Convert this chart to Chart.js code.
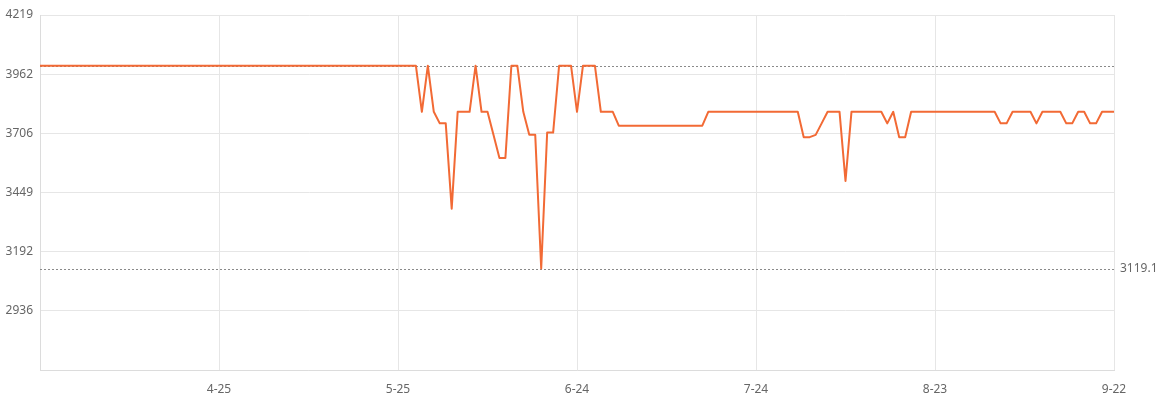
<!DOCTYPE html>
<html>
<head>
<meta charset="utf-8">
<script src="https://cdn.jsdelivr.net/npm/chart.js@4.4.1/dist/chart.umd.min.js"></script>
<style>
html, body { margin: 0; padding: 0; background: #fff; }
</style>
</head>
<body>
<canvas id="priceChart" width="1164" height="408"></canvas>
<script>
// month -> [first day, last day] covered by the chart (3-26 .. 9-22)
const monthSpans = [[3, 26, 31], [4, 1, 30], [5, 1, 31], [6, 1, 30], [7, 1, 31], [8, 1, 31], [9, 1, 22]];
const dates = [];
monthSpans.forEach(([m, from, to]) => {
    for (let d = from; d <= to; d++) dates.push(m + '-' + d);
});

// daily price, 3-26 .. 9-22
const prices = [
    3999, 3999, 3999, 3999, 3999, 3999, 3999, 3999, 3999, 3999,
    3999, 3999, 3999, 3999, 3999, 3999, 3999, 3999, 3999, 3999,
    3999, 3999, 3999, 3999, 3999, 3999, 3999, 3999, 3999, 3999,
    3999, 3999, 3999, 3999, 3999, 3999, 3999, 3999, 3999, 3999,
    3999, 3999, 3999, 3999, 3999, 3999, 3999, 3999, 3999, 3999,
    3999, 3999, 3999, 3999, 3999, 3999, 3999, 3999, 3999, 3999,
    3999, 3999, 3999, 3999, 3799, 3999, 3799, 3749, 3749, 3379,
    3799, 3799, 3799, 3999, 3799, 3799, 3699, 3599, 3599, 3999,
    3999, 3799, 3699, 3699, 3119.1, 3709, 3709, 3999, 3999, 3999,
    3799, 3999, 3999, 3999, 3799, 3799, 3799, 3739, 3739, 3739,
    3739, 3739, 3739, 3739, 3739, 3739, 3739, 3739, 3739, 3739,
    3739, 3739, 3799, 3799, 3799, 3799, 3799, 3799, 3799, 3799,
    3799, 3799, 3799, 3799, 3799, 3799, 3799, 3799, 3689, 3689,
    3699, 3749, 3799, 3799, 3799, 3499, 3799, 3799, 3799, 3799,
    3799, 3799, 3749, 3799, 3689, 3689, 3799, 3799, 3799, 3799,
    3799, 3799, 3799, 3799, 3799, 3799, 3799, 3799, 3799, 3799,
    3799, 3749, 3749, 3799, 3799, 3799, 3799, 3749, 3799, 3799,
    3799, 3799, 3749, 3749, 3799, 3799, 3749, 3749, 3799, 3799,
    3799
];

const yMin = 2679;
const yMax = 4219;
const yTicks = [2936, 3192, 3449, 3706, 3962, 4219];
const maxPrice = 3999;
const minPrice = 3119.1;

const gridColor = '#e6e6e6';
const textColor = '#666';

// dotted lines at highest / lowest price, lowest one labelled on the right
const refLines = {
    id: 'refLines',
    beforeDatasetsDraw(chart) {
        const { ctx, chartArea } = chart;
        const y = chart.scales.y;
        ctx.save();
        ctx.strokeStyle = '#8a8a8a';
        ctx.lineWidth = 1;
        ctx.setLineDash([2, 2]);
        [maxPrice, minPrice].forEach(v => {
            const py = Math.round(y.getPixelForValue(v)) + 0.5;
            ctx.beginPath();
            ctx.moveTo(chartArea.left, py);
            ctx.lineTo(chartArea.right, py);
            ctx.stroke();
        });
        ctx.setLineDash([]);
        ctx.fillStyle = textColor;
        ctx.font = '12px "Noto Sans", sans-serif';
        ctx.textBaseline = 'middle';
        ctx.textAlign = 'left';
        ctx.fillText(String(minPrice), chartArea.right + 6, y.getPixelForValue(minPrice));
        ctx.restore();
    }
};

Chart.defaults.font.family = '"Noto Sans", sans-serif';
Chart.defaults.font.size = 12;
Chart.defaults.color = textColor;

new Chart(document.getElementById('priceChart').getContext('2d'), {
    type: 'line',
    data: {
        labels: dates,
        datasets: [{
            data: prices,
            borderColor: '#f26a35',
            borderWidth: 2,
            borderJoinStyle: 'round',
            pointRadius: 0,
            tension: 0,
            fill: false
        }]
    },
    options: {
        responsive: false,
        animation: false,
        layout: { padding: { top: 15, right: 50, left: 0, bottom: 0 } },
        plugins: { legend: { display: false }, tooltip: { enabled: false } },
        scales: {
            x: {
                offset: false,
                grid: { color: gridColor, drawTicks: false },
                border: { color: '#dcdcdc' },
                ticks: {
                    autoSkip: false,
                    maxRotation: 0,
                    padding: 12,
                    callback: v => (v === 0 ? '' : dates[v])
                },
                afterBuildTicks: scale => {
                    scale.ticks = scale.ticks.filter(t => t.value % 30 === 0);
                },
                afterFit: scale => { scale.height = 38; }
            },
            y: {
                min: yMin,
                max: yMax,
                grid: { color: gridColor, drawTicks: false },
                border: { color: '#dcdcdc' },
                ticks: {
                    padding: 7,
                    callback: v => (v === yMin ? '' : String(v))
                },
                afterBuildTicks: scale => {
                    scale.ticks = [yMin].concat(yTicks).map(v => ({ value: v }));
                },
                afterFit: scale => { scale.width = 40; }
            }
        }
    },
    plugins: [refLines]
});
</script>
</body>
</html>
